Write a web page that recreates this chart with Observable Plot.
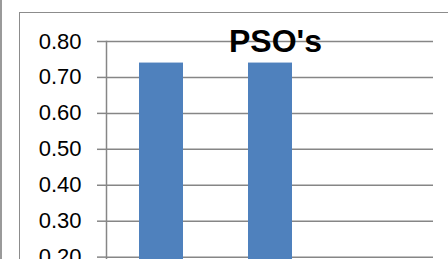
<!DOCTYPE html>
<html><head><meta charset="utf-8">
<script src="https://cdn.jsdelivr.net/npm/d3@7"></script>
<script src="https://cdn.jsdelivr.net/npm/@observablehq/plot@0.6"></script>
<style>
html,body{margin:0;padding:0;background:#fff;}
#wrap{position:relative;width:448px;height:259px;overflow:hidden;background:#fff;}
#edge{position:absolute;left:0;top:0;width:2px;height:259px;background:#9a9a9a;}
#border{position:absolute;left:19px;top:12px;width:700px;height:500px;border:1px solid #8c8c8c;box-sizing:border-box;}
#chart{position:absolute;left:0;top:0;}
</style>
</head><body>
<div id="wrap"><div id="edge"></div><div id="border"></div><div id="chart"></div></div>
<script>
const title = "PSO's";
const categories = ["1", "2", "3"];
const values = [0.74, 0.74, null];
const yTicks = [0.0, 0.1, 0.2, 0.3, 0.4, 0.5, 0.6, 0.7, 0.8];

const data = categories.map((c, i) => ({cat: c, value: values[i]})).filter(d => d.value != null);

const chart = Plot.plot({
  width: 448,
  height: 330,
  marginTop: 41,
  marginBottom: 1.5,
  marginLeft: 106,
  marginRight: 15,
  style: {fontFamily: "'Liberation Sans', Arial, sans-serif", background: "transparent", overflow: "visible"},
  x: {domain: categories, paddingInner: 0.6, paddingOuter: 0.3, axis: null},
  y: {domain: [0, 0.8], label: null},
  marks: [
    Plot.gridY(yTicks, {stroke: "#868686", strokeOpacity: 1, strokeWidth: 1.5}),
    Plot.barY(data, {x: "cat", y: "value", fill: "#4F81BD"}),
    Plot.frame({anchor: "left", stroke: "#868686", strokeWidth: 1.5}),
    Plot.axisY(yTicks, {label: null, tickSize: 9, tickPadding: 16, fontSize: 22, fill: "#000", stroke: "#868686", strokeWidth: 1.5, tickFormat: d => d.toFixed(2)}),
    Plot.text([title], {frameAnchor: "top", dx: 5.5, dy: 10, lineAnchor: "bottom", textAnchor: "middle", fontSize: 32, fontWeight: "bold", fill: "#000"})
  ]
});
document.getElementById("chart").appendChild(chart);
</script>
</body></html>
